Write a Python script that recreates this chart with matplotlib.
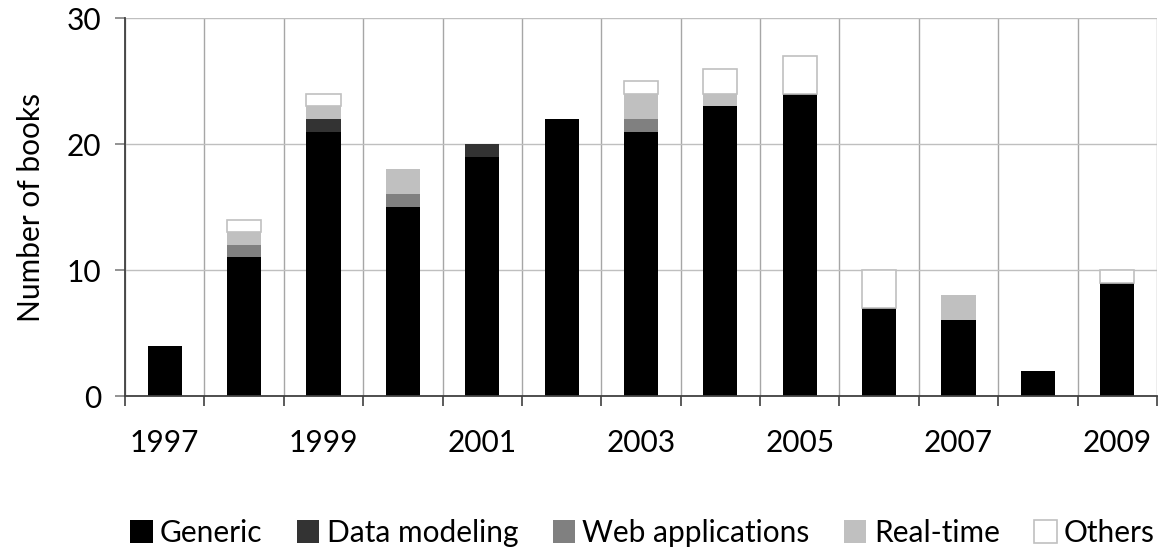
import numpy as np
import matplotlib
matplotlib.use("Agg")
import matplotlib.pyplot as plt
from matplotlib.ticker import FixedLocator, NullFormatter

plt.rcParams['font.family'] = ['Lato', 'DejaVu Sans']

years = [1997, 1998, 1999, 2000, 2001, 2002, 2003, 2004, 2005, 2006, 2007, 2008, 2009]
generic = [4, 11, 21, 15, 19, 22, 21, 23, 24, 7, 6, 2, 9]
data_modeling = [0, 0, 1, 0, 1, 0, 0, 0, 0, 0, 0, 0, 0]
web_applications = [0, 1, 0, 1, 0, 0, 1, 0, 0, 0, 0, 0, 0]
real_time = [0, 1, 1, 2, 0, 0, 2, 1, 0, 0, 2, 0, 0]
others = [0, 1, 1, 0, 0, 0, 1, 2, 3, 3, 0, 0, 1]

series = [
    ("Generic", generic, "#000000", "none"),
    ("Data modeling", data_modeling, "#333333", "none"),
    ("Web applications", web_applications, "#808080", "none"),
    ("Real-time", real_time, "#c0c0c0", "none"),
    ("Others", others, "#ffffff", "#c0c0c0"),
]

FS = 21.5

fig = plt.figure(figsize=(11.64, 5.51), dpi=100)
ax = fig.add_axes([0.1074, 0.2813, 0.8866, 0.6857])

x = np.arange(len(years))
bottom = np.zeros(len(years))
handles = []
for name, vals, color, edge in series:
    vals = np.array(vals, dtype=float)
    keep = vals > 0
    bars = ax.bar(x[keep], vals[keep], width=0.43, bottom=bottom[keep], color=color,
                  edgecolor=edge, linewidth=1.2 if edge != "none" else 0,
                  label=name, zorder=3)
    handles.append(bars)
    bottom += vals

ax.set_xlim(-0.5, len(years) - 0.5)
ax.set_ylim(0, 30)

# y axis
ax.set_yticks([0, 10, 20, 30])
ax.tick_params(axis='y', direction='out', length=7, width=1.2, color='#808080',
               labelsize=FS, pad=10)
ax.set_ylabel("Number of books", fontsize=FS, labelpad=16)

# x axis: ticks on category boundaries, labels under every other bar
ax.xaxis.set_major_locator(FixedLocator(np.arange(len(years) + 1) - 0.5))
ax.xaxis.set_major_formatter(NullFormatter())
ax.xaxis.set_minor_locator(FixedLocator(x[::2]))
ax.set_xticklabels([str(y) for y in years[::2]], minor=True)
ax.tick_params(axis='x', which='major', direction='out', length=7, width=1.2, color='#404040')
ax.tick_params(axis='x', which='minor', length=0, labelsize=FS, pad=24)

# grid
ax.grid(axis='x', which='major', color='#a6a6a6', linewidth=1.0, zorder=0)
ax.grid(axis='y', which='major', color='#bfbfbf', linewidth=1.0, zorder=0)
ax.set_axisbelow(True)

for s in ['top', 'right']:
    ax.spines[s].set_visible(False)
for s in ['left', 'bottom']:
    ax.spines[s].set_color('#404040')
    ax.spines[s].set_linewidth(1.3)
    ax.spines[s].set_zorder(4)

fig.legend(handles=handles, labels=[s[0] for s in series], loc='center',
           bbox_to_anchor=(0.552, 0.033), ncol=5, frameon=False, fontsize=FS,
           handlelength=0.75, handleheight=0.85, handletextpad=0.25, columnspacing=1.15)

fig.savefig("out.png", dpi=100)
